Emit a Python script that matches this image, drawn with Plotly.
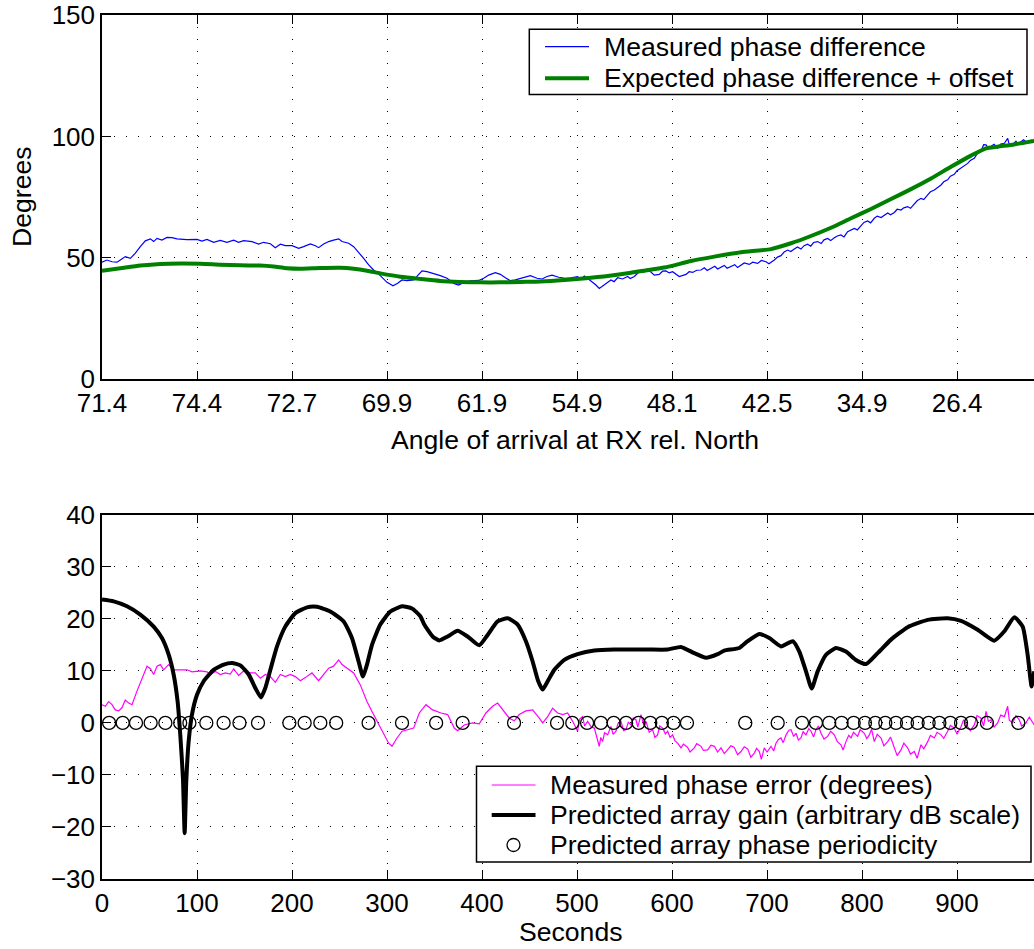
import plotly.graph_objects as go

# ---------------- data ----------------
# top panel: time axis (seconds) with angle tick labels
angle_tick_seconds = [0, 100, 200, 300, 400, 500, 600, 700, 800, 900]
angle_tick_labels = ["71.4", "74.4", "72.7", "69.9", "61.9", "54.9", "48.1", "42.5", "34.9", "26.4"]
seconds_ticks = [0, 100, 200, 300, 400, 500, 600, 700, 800, 900]
deg_ticks = [0, 50, 100, 150]
bottom_ticks = [-30, -20, -10, 0, 10, 20, 30, 40]

meas_t = [0, 5.2, 10.5, 15.8, 19.3, 24.5, 29.8, 35.1, 40.3, 45.6, 50.9, 54.4, 57.9, 63.1, 68.4, 73.7, 78.9, 89.4,
          100, 105.2, 110.5, 117.5, 124.5, 131.5, 138.6, 143.8, 149.1, 157.9, 164.9, 170.1, 177.2, 182.4, 187.7, 193.0,
          200, 207, 212.2, 219.3, 224.6, 228, 233.3, 238.6, 243.8, 249.1, 252.6, 259.6, 264.9, 270.1, 275.4, 280.7,
          285.9, 292.9, 300, 306.3, 311.2, 315.8, 321, 328.1, 333.3, 336.8, 342.1, 349.1, 356.1, 363.2, 370.2, 375.4,
          380.7, 387.7, 396.5, 401.8, 407, 414, 419.3, 424.6, 429.8, 435.1, 442.1, 450.9, 457.9, 463.2, 468.4, 473.7,
          480.7, 487.7, 493.6, 500.6, 504, 507.7, 511, 514.7, 519.9, 523.4, 528.7, 532, 535.7, 539, 542.7, 548, 553.3,
          556, 560.3, 567.3, 570, 574.3, 581.3, 586.6, 590, 593.6, 597, 600.6, 607.6, 614.7, 618, 621.7, 626, 630.5,
          634, 637, 641, 645, 648, 651.5, 655, 658, 662, 666, 669, 672.6, 676, 681.3, 685, 690.1, 694, 698.9, 702,
          707.7, 711, 714.7, 718, 721.7, 725, 728.7, 732, 735.7, 739, 742.7, 746, 749, 753.3, 757, 760, 763.8, 767,
          770.8, 774, 777.8, 781, 784.8, 788, 791.9, 795, 798.9, 802, 805.9, 809, 812.9, 816, 820, 823.4, 827, 830,
          834, 837, 841, 844, 848, 851, 855, 858, 862, 865, 869.1, 872, 876.1, 879, 883.1, 886, 890.1, 893, 897.1,
          900, 904.1, 907, 911.2, 914, 918.2, 921, 925.2, 928, 930.5, 933, 935.7, 939, 942.7, 946, 949.8, 953.3, 955,
          958.5, 962, 964, 967.3, 970, 974.3, 978, 981.3]
meas_deg = [48.2, 49.1, 48.4, 48.2, 49.1, 50.5, 49.8, 51.9, 54.6, 57.0, 57.8, 56.7, 58.0, 57.3, 58.4, 58.3, 57.8, 57.5,
            57.6, 56.9, 57.6, 56.4, 57.2, 56.4, 57.3, 56.4, 57.1, 56.7, 55.7, 56.4, 55.8, 54.2, 55.6, 55.0,
            55.0, 53.9, 54.6, 55.7, 55.0, 54.2, 55.7, 56.7, 57.3, 57.8, 56.7, 56.0, 54.6, 52.3, 49.8, 47.1,
            45.0, 42.7, 39.9, 38.5, 39.5, 40.9, 40.6, 40.9, 42.9, 44.6, 44.3, 43.6, 42.7, 41.6, 39.5, 38.8,
            39.9, 40.5, 40.7, 41.6, 42.9, 43.9, 43.2, 41.8, 40.6, 40.9, 41.8, 42.7, 41.6, 41.3, 42.3, 42.9,
            42.0, 41.6, 41.8, 42.3, 41.2, 42.5, 41.6, 40.5, 38.8, 37.4, 38.8, 39.6, 40.9, 40.2, 41.8, 41.3, 42.3,
            41.5, 42.3, 45.0, 44.1, 45.4, 42.9, 43.2, 44.5, 44.6, 43.8, 44.3, 42.3, 43.2, 44.3, 44.0, 44.9, 45.0,
            45.9, 44.8, 45.7, 46.5, 45.4, 46.0, 46.9, 45.7, 46.4, 47.2, 46.0, 46.8, 47.9, 47.3, 48.2, 47.7, 48.9, 48.4, 47.6,
            49.1, 50.3, 50.9, 52.4, 53.2, 52.6, 53.6, 54.5, 53.6, 55.0, 55.6, 54.8, 56.3, 56.7, 55.9, 57.4, 58.0, 57.1,
            58.3, 59.0, 59.4, 58.6, 60.8, 61.5, 62.1, 61.5, 63.5, 64.6, 65.2, 64.4, 66.3, 67.2, 66.6, 67.6, 68.5, 67.7,
            68.7, 70.0, 69.7, 70.6, 71.1, 70.4, 72.0, 73.5, 74.5, 74.0, 75.9, 77.2, 77.9, 78.8, 80.0, 81.3, 82.1, 83.6, 84.4,
            85.9, 86.9, 87.6, 88.9, 90.1, 91.0, 92.8, 94.0, 96.6, 96.5, 95.2, 95.8, 96.8, 95.1, 96.9, 97.2, 99.2, 96.5,
            96.7, 98.0, 96.8, 97.8, 98.6, 97.2, 98.5, 98.1]

exp_t = [0, 19.3, 40.3, 61.4, 82.5, 103.5, 124.5, 145.6, 166.7, 180.7, 194.7, 208.8, 229.8, 250.9, 264.9, 279, 293,
         314, 335.1, 356.1, 377.2, 398.2, 419.3, 440.4, 461.4, 486.6, 521.7, 556.8, 591.9, 620, 644.5, 672.6, 704.1,
         725.2, 746.2, 767.3, 788.4, 809.4, 830.5, 851.5, 872.6, 893.6, 914.7, 930.5, 942.7, 960.2, 981.3]
exp_deg = [44.7, 45.7, 46.8, 47.5, 47.7, 47.6, 47.2, 46.9, 46.8, 46.4, 45.7, 45.5, 45.8, 45.9, 45.5, 44.7, 43.6,
           42.2, 41.3, 40.5, 40.1, 39.9, 39.9, 40.1, 40.3, 40.9, 42.1, 43.9, 46.0, 48.7, 50.5, 52.3, 53.6,
           56.0, 59.0, 62.4, 66.3, 70.1, 74.2, 78.3, 82.7, 87.5, 92.1, 95.1, 95.8, 96.7, 98.1]

# bottom panel
err_t = [0, 3.5, 7, 10.5, 14, 17.5, 21, 24.5, 28.1, 31.6, 36.8, 42.1, 47.4, 50.9, 54.4, 57.9, 61.4, 64.9, 70.1, 75.4,
         82.5, 89.4, 94.7, 103.5, 110.5, 114, 119.3, 124.5, 129.8, 135.1, 138.6, 143.8, 149.1, 156.1, 161.4, 166.7,
         171.9, 177.2, 182.4, 187.7, 193, 198.2, 203.5, 208.8, 214, 221, 228, 233.3, 238.6, 243.8, 249.1, 252.6,
         257.9, 264.9, 271.9, 278.9, 284.2, 289.5, 296.5, 301.7, 305.2, 310.5, 315.8, 321.1, 328, 334, 341, 348,
         356.8, 363.8, 370.8, 374.3, 381.3, 390.1, 397.1, 404.1, 411.2, 416.4, 421.7, 428.7, 434, 439.2, 446.2,
         453.3, 460.3, 463.8, 469.1, 474.3, 479.6, 484.8, 490.1, 495.4, 500.6, 503, 505.9, 508, 511.2, 515, 518.2,
         521, 523.4, 525, 526.9, 529, 532.2, 535.7, 538, 541, 543, 546.2, 549, 551.5, 554, 556.8, 559, 562, 564,
         567.3, 570, 572.6, 576, 579.6, 582, 584.8, 587, 590.1, 593, 595.4, 598, 600.6, 603, 605.9, 609.4, 612,
         616.4, 619, 623.4, 626, 630.5, 633, 637.5, 641, 644.5, 648, 651.5, 655, 658.5, 662, 665.5, 669, 672.6,
         676, 679.6, 683, 686.6, 689, 691.9, 694, 697.1, 700, 704.2, 707, 709.4, 712, 714.7, 717, 720, 723, 725.2,
         728, 730.5, 733, 735.7, 738, 741, 744, 746.3, 749, 751.5, 754, 756.8, 760, 763.8, 767, 770.8, 774, 777.8,
         780, 783.1, 786, 788.4, 791, 795.4, 798, 802.4, 805, 807.7, 810, 812.9, 816, 820, 823, 827, 830, 834, 837,
         841, 844, 848, 851, 855, 858, 862, 865, 869.1, 872, 876.1, 879, 883.1, 886, 890.1, 893, 897.1, 900, 904.2,
         907, 911.2, 914, 918.2, 921, 925.2, 928, 930.5, 933, 935.7, 939, 942.7, 946, 949.8, 953.3, 955, 958.5,
         962, 965.5, 968, 972.6, 976, 981.3]
err_deg = [3.5, 3.2, 4.1, 3.5, 2.5, 2.3, 2.9, 4.4, 3.8, 3.5, 6.1, 8.6, 10.9, 10.4, 9.3, 10.9, 11.2, 10.2, 11.2, 10.2,
           10.2, 10.2, 9.8, 10.0, 9.8, 9.3, 9.9, 9.3, 9.6, 9.4, 10.4, 9.1, 10.0, 9.6, 9.6, 8.6,
           9.3, 8.9, 7.8, 9.3, 8.9, 9.3, 8.9, 8.1, 8.7, 9.6, 8.1, 9.3, 10.5, 10.9, 12.1, 11.2,
           10.5, 9.6, 7.3, 4.1, 2.2, 0.3, -2.3, -3.9, -4.5, -2.9, -1.6, -1.3, -1.0, 1.9, 3.5, 2.5,
           1.9, 1.6, -1.0, -1.5, -0.4, 0.0, -0.2, 1.9, 3.2, 3.8, 2.5, 0.9, 0.4, 1.6, 2.3,
           2.5, 0.9, 0.0, 1.2, 2.8, 1.9, 1.6, 1.9, 0.3, -1.6, 0.8, 1.2, -0.6, 0.3, -0.8, -1.0,
           -3.2, -4.5, -2.8, -3.6, -1.9, -2.3, -0.7, -2.2, -1.6, -0.2, 0.3, -1.5, -1.3, 0.1, -0.4, 0.9, 0.6, -0.8,
           1.6, -0.3, 0.3, -1.8, -1.3, -2.8, -2.3, -0.6, -1.0, -2.1, -1.6, -2.8, -2.3, -3.4, -3.9, -4.8, -4.1,
           -4.7, -5.6, -4.8, -4.0, -4.5, -5.3, -5.2, -4.3, -4.5, -5.6, -4.8, -5.9, -5.2, -4.4, -4.7, -6.1, -5.5,
           -4.6, -5.0, -6.6, -5.8, -4.9, -5.5, -7.0, -4.8, -5.6, -4.5, -5.4, -3.9, -3.2, -2.9, -3.8, -2.3, -1.4, -1.3,
           -2.6, -2.0, -3.3, -2.9, -1.7, -2.3, -1.1, -1.6, -2.7, -1.3, -0.6, -2.0, -3.1, -2.6, -1.6, -2.3, -3.6, -4.2,
           -5.2, -3.6, -2.4, -2.9, -1.8, -2.6, -1.3, -2.0, -3.0, -2.3, -1.2, -3.6, -2.2, -2.9, -4.4, -3.6, -2.7, -4.8, -6.3,
           -5.2, -3.9, -4.8, -6.0, -5.5, -6.8, -4.2, -5.0, -3.6, -2.4, -2.9, -1.8, -2.3, -3.0, -1.6, -0.5, -1.0, -2.2, -0.7,
           0.6, -0.7, -1.5, -0.4, 1.4, 0.9, -0.6, 2.2, 0.3, 0.6, -0.8, 0.0, 1.5, 1.2, 3.2, 0.5, 0.0,
           1.4, 0.6, -0.6, 0.0, 1.1, -0.4]

gain_t = [0, 12.3, 26.3, 40.3, 54.4, 63.1, 70.2, 75.4, 79.6, 82.4, 85.2, 87.0, 88.7, 91.2, 94.7, 100, 107, 117.5,
          128.1, 136.8, 145.6, 154.4, 161.4, 167.3, 171.9, 177.2, 184.2, 192.9, 203.5, 215.8, 226.3, 240.3, 254.4,
          263.1, 270.1, 274.7, 278.9, 284.2, 292.9, 303.5, 315.8, 326.3, 335.1, 339.2, 348, 355, 363.8, 374.3, 384.8,
          397.1, 405.9, 416.4, 427, 437.5, 446.2, 453.3, 459.2, 463.8, 469.1, 476.1, 486.6, 500.6, 518.2, 539.2,
          574.3, 595.4, 609.4, 623.4, 635.7, 648, 655, 670.8, 679.6, 691.9, 702.4, 714.7, 727, 734, 741, 747, 753.3,
          762.1, 772.6, 783.1, 793.6, 804.2, 816.4, 830.5, 848, 869.1, 890.1, 904.2, 921.7, 939.2, 949.8, 960.3,
          969.1, 974.3, 978.5, 981.3]
gain_db = [23.7, 23.35, 22.4, 20.8, 18.5, 16.3, 13.1, 9.3, 4.1, -2.3, -10.6, -21.2, -11.2, -3.6, 1.6, 5.4, 8.0, 10.2,
           11.2, 11.5, 11.05, 9.3, 6.7, 4.9, 6.7, 10.2, 14.7, 18.5, 21.1, 22.2, 22.3, 21.4, 19.5,
           16.3, 11.8, 8.9, 11.2, 15.0, 18.9, 21.4, 22.4, 22.0, 20.5, 18.9, 16.6, 15.85, 16.6, 17.7, 16.6,
           14.9, 16.9, 19.5, 20.1, 18.9, 15.7, 11.8, 8.0, 6.4, 8.0, 10.2, 12.1, 13.2, 13.9, 14.1,
           14.1, 14.1, 14.6, 13.4, 12.5, 13.2, 13.9, 14.4, 15.7, 17.1, 16.3, 14.7, 15.7, 13.7, 9.9, 6.6, 9.9,
           13.1, 14.4, 13.7, 12.1, 11.3, 13.4, 16.0, 18.4, 19.8, 20.1, 19.6, 17.9, 15.8, 17.6, 20.3,
           18.5, 13.1, 7.0, 9.9]

period_t = [7.5, 21.8, 35.8, 51.2, 66.7, 82.3, 92, 109.8, 128, 144.7, 164.2, 197.2, 213.3, 229.8, 246.5, 280.6,
            315.8, 351.7, 379.6, 433.7, 479.0, 495.0, 510.6, 525.1, 538.6, 551.7, 564.8, 577.1, 589.3, 601.6,
            615.7, 677.1, 711.2, 736.8, 751.5, 765.5, 778.5, 791.2, 803.1, 814.0, 824.5, 835.7, 847.3, 858.5,
            870.1, 881.4, 892.9, 904.2, 914.7, 931.5, 964.5]
period_val = [0] * len(period_t)

top_legend_names = ["Measured phase difference", "Expected phase difference + offset"]
bottom_legend_names = ["Measured phase error (degrees)", "Predicted array gain (arbitrary dB scale)",
                       "Predicted array phase periodicity"]

# ---------------- figure ----------------
FONT = "Liberation Sans, Arial, Helvetica, sans-serif"
FS = 26.6
BLUE, GREEN, MAGENTA, BLACK = "#0000ff", "#008000", "#ff00ff", "#000000"

fig = go.Figure()
fig.add_trace(go.Scatter(x=meas_t, y=meas_deg, mode="lines", name=top_legend_names[0],
                         line=dict(color=BLUE, width=1.2), xaxis="x", yaxis="y"))
fig.add_trace(go.Scatter(x=exp_t, y=exp_deg, mode="lines", name=top_legend_names[1],
                         line=dict(color=GREEN, width=4, shape="spline", smoothing=0.6), xaxis="x", yaxis="y"))
fig.add_trace(go.Scatter(x=err_t, y=err_deg, mode="lines", name=bottom_legend_names[0],
                         line=dict(color=MAGENTA, width=1.2), xaxis="x2", yaxis="y2"))
fig.add_trace(go.Scatter(x=gain_t, y=gain_db, mode="lines", name=bottom_legend_names[1],
                         line=dict(color=BLACK, width=4, shape="spline", smoothing=0.5), xaxis="x2", yaxis="y2"))
fig.add_trace(go.Scatter(x=period_t, y=period_val, mode="markers", name=bottom_legend_names[2],
                         marker=dict(symbol="circle-open", size=13, color=BLACK, line=dict(width=1.3)),
                         xaxis="x2", yaxis="y2"))

axis_common = dict(
    showline=True, linecolor="black", linewidth=1.5,
    ticks="inside", ticklen=9, tickwidth=1, tickcolor="black",
    showgrid=True, gridcolor="black", gridwidth=1, griddash="1px,11px",
    zeroline=False, tickfont=dict(family=FONT, size=26, color="black"),
)

# ---- legend boxes drawn in paper coordinates (pixel-derived) ----
L, W, T, H = 102, 932, 15, 864
def px(x):
    return (x - L) / W
def py(y):
    return (T + H - y) / H

shapes = []
annotations = []

def legend_box(x0, x1, y0, y1):
    shapes.append(dict(type="rect", xref="paper", yref="paper", x0=px(x0), x1=px(x1), y0=py(y1), y1=py(y0),
                       fillcolor="white", line=dict(color="black", width=1.5), layer="above"))

def legend_line(x0, x1, y, color, width):
    shapes.append(dict(type="line", xref="paper", yref="paper", x0=px(x0), x1=px(x1), y0=py(y), y1=py(y),
                       line=dict(color=color, width=width), layer="above"))

def legend_text(x, y, text):
    annotations.append(dict(text=text, xref="paper", yref="paper", x=px(x), y=py(y), showarrow=False,
                            xanchor="left", yanchor="middle", font=dict(family=FONT, size=FS, color="black")))

# top legend
legend_box(529.3, 1027, 29.3, 94.5)
legend_line(545, 589, 46.7, BLUE, 1.2)
legend_line(545, 589, 78.3, GREEN, 4)
legend_text(602, 46.7, top_legend_names[0])
legend_text(602, 78.3, top_legend_names[1])

# bottom legend
legend_box(476.5, 1031, 766.3, 862)
legend_line(491.7, 535.5, 785, MAGENTA, 1.2)
legend_line(491.7, 535.5, 815, BLACK, 4)
shapes.append(dict(type="circle", xref="paper", yref="paper", xsizemode="pixel", ysizemode="pixel",
                   xanchor=px(513.5), yanchor=py(845), x0=-6.5, x1=6.5, y0=-6.5, y1=6.5,
                   line=dict(color=BLACK, width=1.3), fillcolor="rgba(0,0,0,0)", layer="above"))
legend_text(548, 785, bottom_legend_names[0])
legend_text(548, 815, bottom_legend_names[1])
legend_text(548, 845, bottom_legend_names[2])

# axis titles
annotations += [
    dict(text="Degrees", xref="paper", yref="paper", x=px(22), y=py(197), textangle=-90,
         showarrow=False, xanchor="center", yanchor="middle", font=dict(family=FONT, size=FS)),
    dict(text="Angle of arrival at RX rel. North", xref="paper", yref="paper", x=px(574.5), y=py(440),
         showarrow=False, xanchor="center", yanchor="middle", font=dict(family=FONT, size=FS)),
    dict(text="Seconds", xref="paper", yref="paper", x=px(571), y=py(949),
         showarrow=False, xanchor="center", yanchor="bottom", font=dict(family=FONT, size=FS)),
]

XR = [0, 981]
fig.update_layout(
    width=1034, height=949,
    margin=dict(l=L, r=0, t=T, b=949 - T - H),
    paper_bgcolor="white", plot_bgcolor="white",
    font=dict(family=FONT, size=FS, color="black"),
    showlegend=False,
    xaxis=dict(domain=[0, 1], anchor="y", range=XR, tickmode="array",
               tickvals=angle_tick_seconds, ticktext=angle_tick_labels, mirror="ticks", **axis_common),
    yaxis=dict(domain=[0.5784, 1], anchor="x", range=[0, 150], tickmode="array",
               tickvals=deg_ticks, mirror=False, **axis_common),
    xaxis2=dict(domain=[0, 1], anchor="y2", range=XR, tickmode="array",
                tickvals=seconds_ticks, mirror="ticks", **axis_common),
    yaxis2=dict(domain=[0, 0.4216], anchor="x2", range=[-30, 40], tickmode="array",
                tickvals=bottom_ticks, mirror=False, **axis_common),
    shapes=shapes,
    annotations=annotations,
)

fig.write_html("out.html")
